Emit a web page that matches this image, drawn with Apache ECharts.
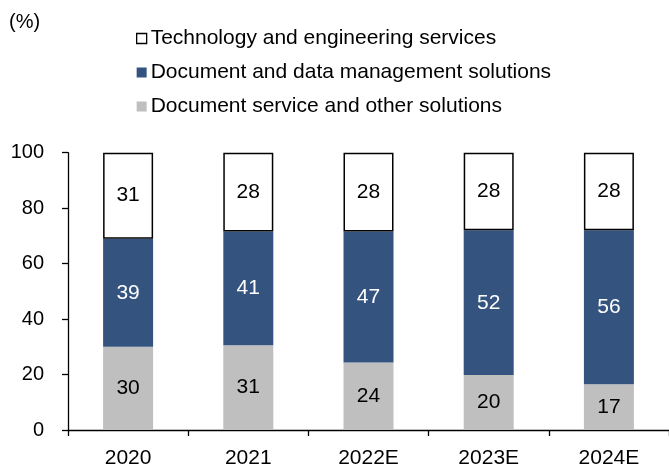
<!DOCTYPE html>
<html>
<head>
<meta charset="utf-8">
<script src="https://cdn.jsdelivr.net/npm/echarts@6/dist/echarts.min.js"></script>
<style>html,body{margin:0;padding:0;background:#fff}#c{width:669px;height:470px}</style>
</head>
<body>
<div id="c"></div>
<script>
const categories = ['2020', '2021', '2022E', '2023E', '2024E'];
const docService = [30, 30.6, 24.3, 19.8, 16.5];
const docData = [39, 41.0, 47.3, 52.2, 55.5];
const techEng = [31, 28.4, 28.4, 28.0, 28.0];
const yTicks = [0, 20, 40, 60, 80, 100];
const names = ['Technology and engineering services', 'Document and data management solutions', 'Document service and other solutions'];

const FONT = '"Liberation Sans", Arial, sans-serif';
const chart = echarts.init(document.getElementById('c'), null, {renderer: 'canvas'});
const lbl = (color) => ({show: true, position: 'inside', color: color, fontSize: 21, fontFamily: FONT,
  formatter: p => Math.round(p.value)});
chart.setOption({
  animation: false,
  backgroundColor: '#fff',
  textStyle: {fontFamily: FONT},
  title: {text: '(%)', left: 9, top: 12, padding: 0, textStyle: {fontSize: 20, fontWeight: 'normal', color: '#000', fontFamily: FONT}},
  legend: {
    orient: 'vertical', left: 136, top: 28, padding: 0, itemWidth: 10, itemHeight: 10, itemGap: 13,
    icon: 'rect',
    data: [
      {name: names[0], itemStyle: {color: '#fff', borderColor: '#000', borderWidth: 1.3}},
      {name: names[1]},
      {name: names[2]}
    ],
    textStyle: {fontSize: 21, color: '#000', fontFamily: FONT, padding: [0, 0, 0, -1]}
  },
  grid: {left: 68, right: 0, top: 152.7, bottom: 40, containLabel: false},
  xAxis: {
    type: 'category', data: categories,
    axisLine: {lineStyle: {color: '#000', width: 1.3}},
    axisTick: {show: true, length: 6, lineStyle: {color: '#000', width: 1.3}},
    axisLabel: {fontSize: 21, color: '#000', margin: 18, fontFamily: FONT}
  },
  yAxis: {
    type: 'value', min: 0, max: 100, interval: 20,
    axisLine: {show: true, lineStyle: {color: '#000', width: 1.3}},
    axisTick: {show: true, length: 6, lineStyle: {color: '#000', width: 1.3}},
    splitLine: {show: false},
    axisLabel: {fontSize: 20, color: '#000', margin: 24, fontFamily: FONT,
      customValues: yTicks}
  },
  series: [
    {name: names[2], type: 'bar', stack: 's', data: docService, barWidth: 50,
      itemStyle: {color: '#bfbfbf'}, label: lbl('#000')},
    {name: names[1], type: 'bar', stack: 's', data: docData, barWidth: 50,
      itemStyle: {color: '#34547f'}, label: lbl('#fff')},
    {name: names[0], type: 'bar', stack: 's', data: techEng, barWidth: 50,
      itemStyle: {color: '#fff', borderColor: '#000', borderWidth: 1.5}, label: lbl('#000')}
  ]
});
</script>
</body>
</html>
